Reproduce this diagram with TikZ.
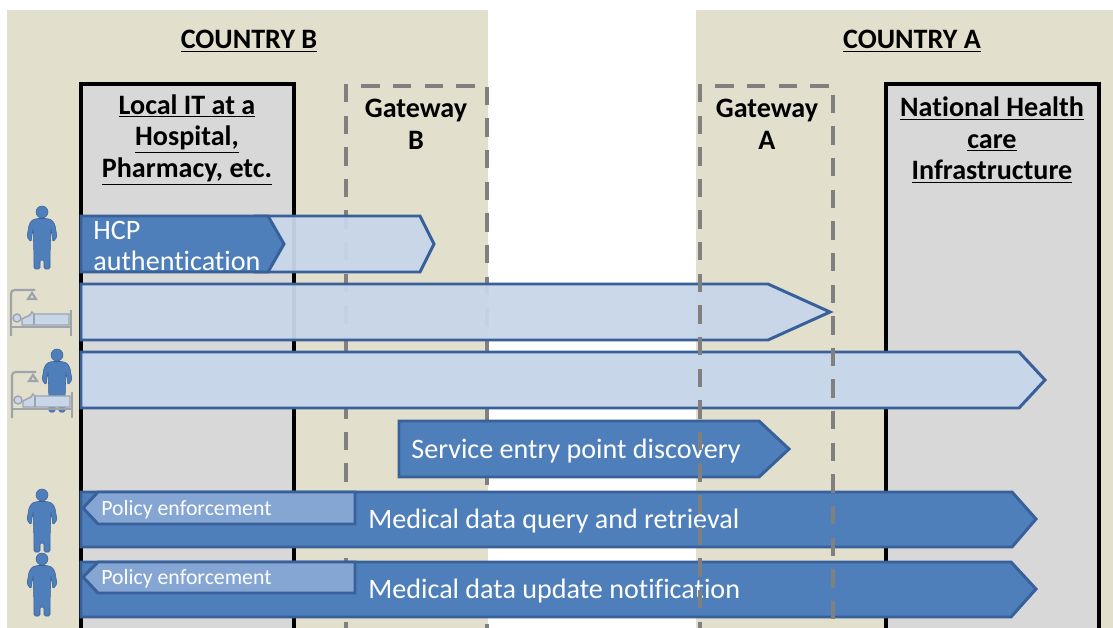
\documentclass[tikz,border=0pt]{standalone}
\usepackage{fontspec}
\setmainfont{Carlito}[Ligatures=CommonOff]
\definecolor{tan}{HTML}{E2DFCD}
\definecolor{boxgray}{HTML}{D8D8D8}
\definecolor{dashgray}{HTML}{808080}
\definecolor{darkblue}{HTML}{4F7FBB}
\definecolor{edgeblue}{HTML}{38609A}
\definecolor{paleblue}{HTML}{C8D6E9}
\definecolor{midblue}{HTML}{85A5D2}
\definecolor{bedgray}{HTML}{9EA4AC}
\tikzset{
    country/.style={fill=tan, draw=none},
    itbox/.style={fill=boxgray, draw=black, line width=2.3pt},
    gatewayline/.style={draw=dashgray, line width=2.6pt, dash pattern=on 10.5pt off 7.5pt},
    darkarrow/.style={fill=darkblue, draw=edgeblue, line width=1.7pt, line join=miter},
    palearrow/.style={fill=paleblue, fill opacity=0.95, draw=edgeblue, line width=1.7pt, line join=miter},
    policyarrow/.style={fill=midblue, draw=edgeblue, line width=1.7pt, line join=miter},
    heading/.style={font=\fontsize{16}{18.1}\selectfont\bfseries, align=center},
    whitelabel/.style={font=\fontsize{16}{18.1}\selectfont, text=white, align=left, anchor=west, inner sep=0pt},
    smalllabel/.style={font=\fontsize{12.4}{14}\selectfont, text=white, anchor=west, inner sep=0pt},
    doctor/.pic={
        \fill[darkblue, draw=edgeblue, line width=0.3pt] (0,0) circle (6);
        \fill[darkblue, draw=edgeblue, line width=0.3pt, rounded corners=0.8pt]
            (-5,6.5) -- (-10,8) -- (-13,13) -- (-15,25) -- (-11,30) -- (-8.9,16) -- (-8.4,32) -- (-8,47) -- (-8,57)
            -- (-2,57) -- (-2,48) -- (2,48) -- (2,57) -- (8,57) -- (8,47) -- (8.4,32) -- (8.9,16)
            -- (11,30) -- (15,25) -- (13,13) -- (10,8) -- (5,6.5) -- cycle;
    },
    bed/.pic={
        \draw[bedgray, line width=1.2pt, rounded corners=2pt] (0,46) -- (0,0) -- (24,0);
        \draw[bedgray, line width=1.2pt] (17,9) -- (21,3) -- (25,9) -- cycle;
        \draw[bedgray, line width=1.2pt] (0,37) -- (60,37);
        \draw[bedgray, line width=1.2pt] (60,20) -- (60,46);
        \fill[paleblue, draw=bedgray, line width=0.8pt] (11,29) -- (19,25) -- (21,22) -- (23,24) -- (58,24) -- (58,35) -- (11,35) -- cycle;
        \draw[bedgray, line width=0.8pt] (23,24) -- (23,35);
        \fill[paleblue, draw=bedgray, line width=0.8pt] (6,28) circle (4);
    },
}
\begin{document}
\begin{tikzpicture}[x=0.02cm, y=-0.02cm]
    \clip (0,0) rectangle (1113,628);
    \fill[white] (0,0) rectangle (1113,628);

    \fill[country] (7,10) rectangle (488,640);
    \fill[country] (696,10) rectangle (1113,640);
    \node[heading] (countryB) at (249,41) {\underline{COUNTRY B}};
    \node[heading] (countryA) at (912,41) {\underline{COUNTRY A}};

    \draw[itbox] (81,640) -- (81,84) -- (294,84) -- (294,640);
    \draw[itbox] (886,640) -- (886,84) -- (1099,84) -- (1099,640);
    \node[heading] (localIT) at (187,140) {\underline{Local IT at a}\\\underline{Hospital,}\\\underline{Pharmacy, etc.}};
    \node[heading] (national) at (992,140) {\underline{National Health}\\\underline{care}\\\underline{Infrastructure}};

    % gateway B lies under the arrows
    \draw[gatewayline] (346,640) -- (346,86) -- (487,86) -- (487,640);
    \node[heading] (gatewayB) at (416,124) {Gateway\\B};

    \draw[palearrow] (255,216) -- (420,216) -- (434,244) -- (420,272) -- (255,272) -- cycle;
    \draw[darkarrow] (81,216) -- (268,216) -- (284,244) -- (268,272) -- (81,272) -- cycle;
    \node[whitelabel] (hcp) at (93,246) {HCP\\authentication};

    \draw[palearrow] (81,284) -- (768,284) -- (830,312) -- (768,340) -- (81,340) -- cycle;
    \draw[palearrow, fill opacity=1] (81,352) -- (1019,352) -- (1045,380) -- (1019,408) -- (81,408) -- cycle;

    \draw[darkarrow] (399,421) -- (759,421) -- (789,449) -- (759,477) -- (399,477) -- cycle;
    \node[whitelabel] (discovery) at (411,451) {Service entry point discovery};

    \draw[darkarrow] (81,492) -- (1012,492) -- (1036,519) -- (1012,547) -- (81,547) -- cycle;
    \draw[policyarrow] (355,492) -- (98,492) -- (83,508) -- (98,524) -- (355,524) -- cycle;
    \node[smalllabel] (policyA) at (101,510) {Policy enforcement};
    \node[whitelabel] (query) at (368,521) {Medical data query and retrieval};

    \draw[darkarrow] (81,562) -- (1011,562) -- (1036,589) -- (1011,617) -- (81,617) -- cycle;
    \draw[policyarrow] (355,562) -- (98,562) -- (83,577) -- (98,593) -- (355,593) -- cycle;
    \node[smalllabel] (policyB) at (101,579) {Policy enforcement};
    \node[whitelabel] (update) at (368,591) {Medical data update notification};

    % gateway A lies over them
    \draw[gatewayline] (700,640) -- (700,86) -- (833,86) -- (833,640);
    \node[heading] (gatewayA) at (767,124) {Gateway\\A};

    \pic (docA) at (42,212) {doctor};
    \pic (bedA) at (11,290) {bed};
    \pic (docB) at (57,355) {doctor};
    \pic (bedB) at (12,372) {bed};
    \pic (docC) at (42,495) {doctor};
    \pic (docD) at (42,559) {doctor};
\end{tikzpicture}
\end{document}
